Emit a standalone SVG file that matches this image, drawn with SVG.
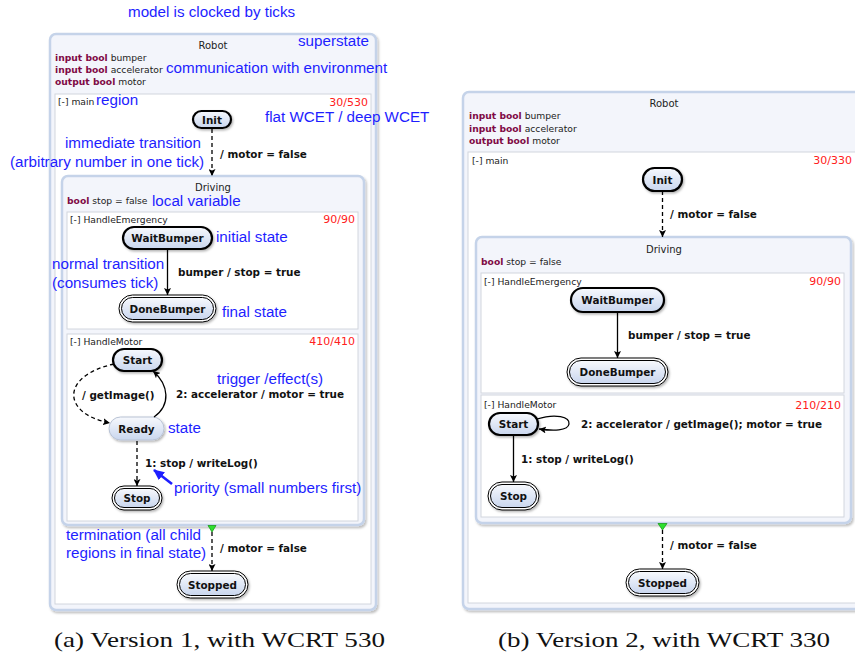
<svg xmlns="http://www.w3.org/2000/svg" width="855" height="658" viewBox="0 0 855 658">
<style>
.sup{fill:#f3f5fb;stroke:#c5d3e9;stroke-width:2.5}
.reg{fill:#ffffff;stroke:#d2d6de;stroke-width:1}
.t{font-family:"DejaVu Sans",sans-serif;font-size:10px;fill:#222}
.d{font-family:"DejaVu Sans",sans-serif;font-size:9.2px;fill:#222}
.kw{font-weight:bold;fill:#7f0a45}
.r{font-family:"DejaVu Sans",sans-serif;font-size:9.2px;fill:#222}
.w{font-family:"DejaVu Sans",sans-serif;font-size:11px;fill:#ff2020;text-anchor:end}
.b{font-family:"DejaVu Sans",sans-serif;font-size:10.4px;font-weight:bold;fill:#111}
.n{font-family:"DejaVu Sans",sans-serif;font-size:10.4px;font-weight:bold;fill:#111;text-anchor:middle}
.a{font-family:"Liberation Sans",Arial,sans-serif;font-size:15.2px;fill:#1e1eff}
.cap{font-family:"Liberation Serif","Times New Roman",serif;font-size:22px;fill:#111}
.init{fill:url(#g);stroke:#000;stroke-width:2.2;filter:url(#sh)}
.norm{fill:url(#g);stroke:#b8c2d4;stroke-width:1;filter:url(#sh)}
.fo{fill:#fff;stroke:#000;stroke-width:1;filter:url(#sh)}
.fi{fill:url(#g);stroke:#000;stroke-width:1}
.solid{fill:none;stroke:#000;stroke-width:1.3;marker-end:url(#ah)}
.dash{fill:none;stroke:#000;stroke-width:1.3;stroke-dasharray:4,3;marker-end:url(#ah)}
.term{fill:#2ee02e;stroke:#1a9a1a;stroke-width:0.8}
</style>
<defs>
<linearGradient id="g" x1="0" y1="0" x2="0" y2="1">
<stop offset="0" stop-color="#f7f9fd"/>
<stop offset="1" stop-color="#c9d6ee"/>
</linearGradient>
<filter id="sh" x="-20%" y="-20%" width="140%" height="160%">
<feDropShadow dx="1.2" dy="1.5" stdDeviation="0.8" flood-color="#000" flood-opacity="0.3"/>
</filter>
<filter id="shb" x="-5%" y="-5%" width="110%" height="110%">
<feDropShadow dx="1.5" dy="2" stdDeviation="1" flood-color="#000" flood-opacity="0.25"/>
</filter>
<marker id="ah" markerWidth="8" markerHeight="7" refX="7" refY="3.5" orient="auto" markerUnits="userSpaceOnUse">
<path d="M0,0 L7,3.5 L0,7 L1.5,3.5 z" fill="#000"/>
</marker>
<marker id="bh" markerWidth="12" markerHeight="10" refX="10" refY="5" orient="auto" markerUnits="userSpaceOnUse">
<path d="M0,0 L11,5 L0,10 z" fill="#1e1eff"/>
</marker>
</defs>

<!-- ===== Version 1 ===== -->
<g id="robot1">
<rect class="sup" x="50" y="34" width="326" height="576" rx="6" filter="url(#shb)"/>
<text class="t" x="213" y="49" text-anchor="middle">Robot</text>
<text class="d" x="55" y="61"><tspan class="kw">input bool</tspan> bumper</text>
<text class="d" x="55" y="73"><tspan class="kw">input bool</tspan> accelerator</text>
<text class="d" x="55" y="85"><tspan class="kw">output bool</tspan> motor</text>
</g>
<g id="main1">
<rect class="reg" x="55" y="94" width="316" height="510"/>
<text class="r" x="58" y="105">[-] main</text>
<text class="w" x="368" y="106">30/530</text>
</g>
<g id="init1">
<rect class="init" x="193" y="111" width="38" height="17" rx="8.5"/>
<text class="n" x="212" y="123.5">Init</text>
</g>
<g id="driving1">
<rect class="sup" x="62" y="176" width="302" height="349" rx="6" filter="url(#shb)"/>
<text class="t" x="213" y="191" text-anchor="middle">Driving</text>
<text class="d" x="67" y="204"><tspan class="kw">bool</tspan> stop = false</text>
</g>
<g id="handleEmergency1">
<rect class="reg" x="67" y="212" width="291" height="117"/>
<text class="r" x="70" y="223">[-] HandleEmergency</text>
<text class="w" x="355" y="223">90/90</text>
</g>
<g id="waitBumper1">
<rect class="init" x="123" y="227" width="89" height="22" rx="11"/>
<text class="n" x="167.5" y="242">WaitBumper</text>
</g>
<g id="doneBumper1">
<rect class="fo" x="119" y="295" width="97" height="27" rx="13.5"/>
<rect class="fi" x="121.5" y="297.5" width="92" height="22" rx="11"/>
<text class="n" x="167.5" y="312.5">DoneBumper</text>
</g>
<g id="handleMotor1">
<rect class="reg" x="67" y="334" width="291" height="187"/>
<text class="r" x="70" y="345">[-] HandleMotor</text>
<text class="w" x="355" y="345">410/410</text>
</g>
<g id="start1">
<rect class="init" x="113" y="349" width="49" height="22" rx="11"/>
<text class="n" x="137.5" y="364">Start</text>
</g>
<g id="ready1">
<rect class="norm" x="109" y="417" width="55" height="23" rx="11.5"/>
<text class="n" x="136.5" y="432.5">Ready</text>
</g>
<g id="stop1">
<rect class="fo" x="112" y="486" width="50" height="24" rx="12"/>
<rect class="fi" x="114.5" y="488.5" width="45" height="19" rx="9.5"/>
<text class="n" x="137" y="502">Stop</text>
</g>
<g id="stopped1">
<rect class="fo" x="177" y="571" width="71" height="27" rx="13.5"/>
<rect class="fi" x="179.5" y="573.5" width="66" height="22" rx="11"/>
<text class="n" x="212.5" y="588.5">Stopped</text>
</g>

<g id="connectors1">
<path class="dash" d="M212,129 L212,176"/>
<path class="solid" d="M167.5,249 L167.5,295"/>
<path class="dash" d="M114,364 C60,376 62,414 110,423"/>
<path class="solid" d="M154,417 C171,405 169,385 153,371"/>
<path class="dash" d="M137,441 L137,486"/>
<polygon class="term" points="208,525.5 216,525.5 212,532"/>
<path class="dash" d="M212,532 L212,571"/>
<text class="b" x="220" y="158">/ motor = false</text>
<text class="b" x="178" y="276">bumper / stop = true</text>
<text class="b" x="82" y="399">/ getImage()</text>
<text class="b" x="176" y="398">2: accelerator / motor = true</text>
<text class="b" x="145" y="467">1: stop / writeLog()</text>
<text class="b" x="220" y="552">/ motor = false</text>
<path d="M172,484 L154,470" stroke="#1e1eff" stroke-width="2.6" fill="none" marker-end="url(#bh)"/>
</g>

<g id="annotations">
<text class="a" x="128" y="17">model is clocked by ticks</text>
<text class="a" x="298" y="46">superstate</text>
<text class="a" x="166" y="73">communication with environment</text>
<text class="a" x="96" y="105">region</text>
<text class="a" x="265" y="122">flat WCET / deep WCET</text>
<text class="a" x="65" y="148">immediate transition</text>
<text class="a" x="10" y="167">(arbitrary number in one tick)</text>
<text class="a" x="152" y="206">local variable</text>
<text class="a" x="216" y="242">initial state</text>
<text class="a" x="52" y="269">normal transition</text>
<text class="a" x="52" y="288">(consumes tick)</text>
<text class="a" x="222" y="317">final state</text>
<text class="a" x="217" y="384">trigger /effect(s)</text>
<text class="a" x="168" y="433">state</text>
<text class="a" x="174" y="493">priority (small numbers first)</text>
<text class="a" x="66" y="540">termination (all child</text>
<text class="a" x="66" y="558">regions in final state)</text>
</g>

<!-- ===== Version 2 ===== -->
<g id="robot2">
<rect class="sup" x="463" y="92" width="420" height="517" rx="6" filter="url(#shb)"/>
<text class="t" x="664" y="107" text-anchor="middle">Robot</text>
<text class="d" x="469" y="119"><tspan class="kw">input bool</tspan> bumper</text>
<text class="d" x="469" y="132"><tspan class="kw">input bool</tspan> accelerator</text>
<text class="d" x="469" y="144"><tspan class="kw">output bool</tspan> motor</text>
</g>
<g id="main2">
<rect class="reg" x="468" y="152" width="400" height="451"/>
<text class="r" x="472" y="164">[-] main</text>
<text class="w" x="852" y="164">30/330</text>
</g>
<g id="init2">
<rect class="init" x="643" y="168" width="39" height="23" rx="11.5"/>
<text class="n" x="662.5" y="183.5">Init</text>
</g>
<g id="driving2">
<rect class="sup" x="476" y="237" width="375" height="286" rx="6" filter="url(#shb)"/>
<text class="t" x="664" y="253" text-anchor="middle">Driving</text>
<text class="d" x="481" y="265"><tspan class="kw">bool</tspan> stop = false</text>
</g>
<g id="handleEmergency2">
<rect class="reg" x="481" y="273" width="363" height="120"/>
<text class="r" x="484" y="285">[-] HandleEmergency</text>
<text class="w" x="841" y="285">90/90</text>
</g>
<g id="waitBumper2">
<rect class="init" x="571" y="288" width="93" height="24" rx="12"/>
<text class="n" x="617.5" y="304">WaitBumper</text>
</g>
<g id="doneBumper2">
<rect class="fo" x="567" y="358" width="101" height="28" rx="14"/>
<rect class="fi" x="569.5" y="360.5" width="96" height="23" rx="11.5"/>
<text class="n" x="617.5" y="376">DoneBumper</text>
</g>
<g id="handleMotor2">
<rect class="reg" x="481" y="395" width="363" height="122"/>
<text class="r" x="484" y="408">[-] HandleMotor</text>
<text class="w" x="841" y="409">210/210</text>
</g>
<g id="start2">
<rect class="init" x="489" y="413" width="49" height="22" rx="11"/>
<text class="n" x="513.5" y="428">Start</text>
</g>
<g id="stop2">
<rect class="fo" x="488" y="482" width="51" height="28" rx="14"/>
<rect class="fi" x="490.5" y="484.5" width="46" height="23" rx="11.5"/>
<text class="n" x="513.5" y="500">Stop</text>
</g>
<g id="stopped2">
<rect class="fo" x="626" y="569" width="73" height="27" rx="13.5"/>
<rect class="fi" x="628.5" y="571.5" width="68" height="22" rx="11"/>
<text class="n" x="662.5" y="586.5">Stopped</text>
</g>

<g id="connectors2">
<path class="dash" d="M662.5,191 L662.5,237"/>
<path class="solid" d="M617.5,312 L617.5,358"/>
<path class="solid" d="M537,419 C556,413 570,417 569,424 C568,431 553,431 539,429"/>
<path class="solid" d="M513.5,435 L513.5,482"/>
<polygon class="term" points="658,523.5 667,523.5 662.5,530"/>
<path class="dash" d="M662.5,530 L662.5,569"/>
<text class="b" x="670" y="218">/ motor = false</text>
<text class="b" x="628" y="339">bumper / stop = true</text>
<text class="b" x="581" y="428">2: accelerator / getImage(); motor = true</text>
<text class="b" x="521" y="463">1: stop / writeLog()</text>
<text class="b" x="670" y="549">/ motor = false</text>
</g>

<g id="captions">
<text class="cap" x="54" y="647" textLength="331" lengthAdjust="spacingAndGlyphs">(a) Version 1, with WCRT 530</text>
<text class="cap" x="498" y="647" textLength="332" lengthAdjust="spacingAndGlyphs">(b) Version 2, with WCRT 330</text>
</g>
</svg>
